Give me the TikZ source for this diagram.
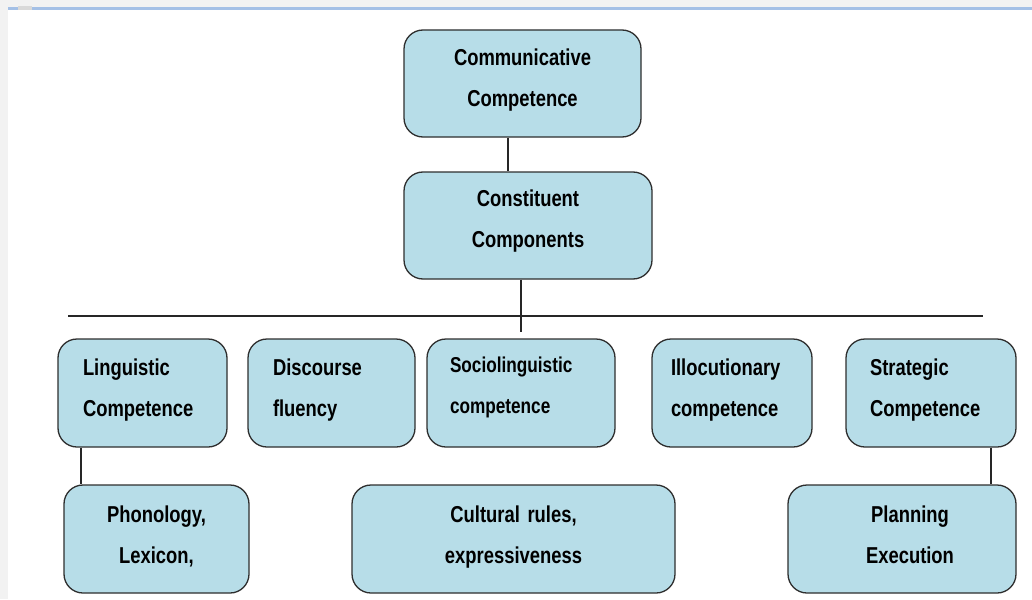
\documentclass[tikz,border=0pt]{standalone}
\usepackage{fontspec}
\newfontfamily\boxfont[FakeStretch=0.8]{Liberation Sans}
\definecolor{boxfill}{HTML}{B7DDE8}
\definecolor{boxline}{HTML}{2E2E2E}
\definecolor{barblue}{HTML}{A4C0E6}
\definecolor{stripgray}{HTML}{F2F2F2}
\tikzset{
  cbox/.style={draw=boxline, fill=boxfill, line width=1.3pt, rounded corners=19pt,
    inner ysep=0pt, align=center, text depth=52pt,
    font=\boxfont\bfseries\fontsize{23}{41}\selectfont},
  lbox/.style={cbox, align=left},
  conn/.style={draw=black!85, line width=1.1pt}
}
\begin{document}
\begin{tikzpicture}[x=1pt,y=-1pt]
\useasboundingbox (0,0) rectangle (1032,599);
% page chrome
\fill[stripgray] (0,0) rectangle (1032,7);
\fill[stripgray] (0,0) rectangle (8,599);
\fill[barblue] (8,7) rectangle (1032,10.5);
\fill[black!15] (18,6) rectangle (32,10.5);
% top boxes
\node[cbox, minimum width=237pt, minimum height=107pt, text width=200pt, inner xsep=18pt, text depth=53.5pt]
  (comm) at (522.5,83.5) {Communicative\\Competence};
\node[cbox, minimum width=248pt, minimum height=107pt, text width=210pt, inner xsep=19pt, text depth=55.5pt]
  (cons) at (528,225.5) {Constituent\\Components};
% second row
\node[lbox, minimum width=169pt, minimum height=108pt, text width=119pt, inner xsep=25pt]
  (ling) at (142.5,393) {Linguistic\\Competence};
\node[lbox, minimum width=167pt, minimum height=108pt, text width=117pt, inner xsep=25pt]
  (disc) at (331.5,393) {Discourse\\fluency};
\node[lbox, minimum width=188pt, minimum height=108pt, text width=142pt, inner xsep=23pt,
  text depth=57pt, font=\boxfont\bfseries\fontsize{21.5}{41}\selectfont]
  (soc) at (521,393) {Sociolinguistic\\competence};
\node[lbox, minimum width=160pt, minimum height=108pt, text width=122pt, inner xsep=19pt, text depth=51pt]
  (illo) at (732,393) {Illocutionary\\competence};
\node[lbox, minimum width=170pt, minimum height=108pt, text width=122pt, inner xsep=24pt]
  (strat) at (931,393) {Strategic\\Competence};
% third row
\node[cbox, minimum width=185pt, minimum height=108pt, text width=160pt, inner xsep=12pt, text depth=50.5pt]
  (phon) at (156.5,539) {Phonology,\\Lexicon,};
\node[cbox, minimum width=323pt, minimum height=108pt, text width=290pt, inner xsep=16pt, text depth=50.5pt]
  (cult) at (513.5,539) {Cultural rules,\\expressiveness};
\node[cbox, minimum width=228pt, minimum height=108pt, text width=200pt, inner xsep=14pt, text depth=50.5pt]
  (plan) at (902,539) {\hspace*{16pt}Planning\\\hspace*{16pt}Execution};
% connectors
\coordinate (busL) at (68,316);
\coordinate (busR) at (983,316);
\coordinate (drop) at ([xshift=-7pt]cons.south |- 0,332);
\draw[conn] ([xshift=-14.5pt]comm.south) -- ([xshift=-14.5pt]comm.south |- cons.north);
\draw[conn] ([xshift=-7pt]cons.south) -- (drop);
\draw[conn] (busL) -- (busR);
\draw[conn] ([xshift=-61.5pt]ling.south) -- ([xshift=-61.5pt]ling.south |- phon.north);
\draw[conn] ([xshift=60pt]strat.south) -- ([xshift=60pt]strat.south |- plan.north);
\end{tikzpicture}
\end{document}
